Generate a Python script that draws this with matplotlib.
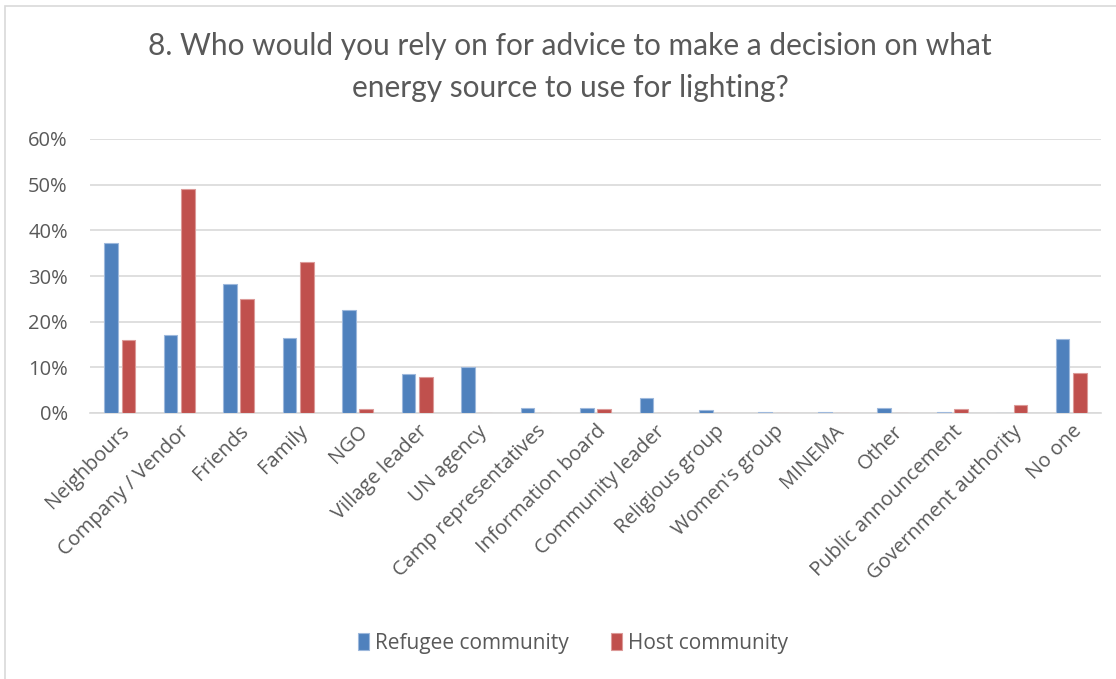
import matplotlib
matplotlib.use("Agg")
import matplotlib.pyplot as plt
from matplotlib.patches import Rectangle
from matplotlib.ticker import PercentFormatter
import numpy as np

categories = ["Neighbours", "Company / Vendor", "Friends", "Family", "NGO", "Village leader",
              "UN agency", "Camp representatives", "Information board", "Community leader",
              "Religious group", "Women's group", "MINEMA", "Other", "Public announcement",
              "Government authority", "No one"]
refugee = [37.3, 17.0, 28.2, 16.5, 22.6, 8.6, 10.0, 1.1, 1.1, 3.3, 0.6, 0.3, 0.3, 1.1, 0.3, 0.0, 16.1]
host = [16.0, 49.1, 25.0, 33.0, 0.8, 7.9, 0.0, 0.0, 0.8, 0.0, 0.0, 0.0, 0.0, 0.0, 0.8, 1.7, 8.8]
series_names = ["Refugee community", "Host community"]
title = "8. Who would you rely on for advice to make a decision on what\nenergy source to use for lighting?"

W, H = 1116, 679
fig = plt.figure(figsize=(W / 100, H / 100), dpi=100)
fig.patch.set_facecolor("white")

# chart border
fig.add_artist(Rectangle((5 / W, -0.01), 1.2, 1 - 6 / H + 0.01, transform=fig.transFigure,
                         fill=False, edgecolor="#d9d9d9", linewidth=1.2))

ax = fig.add_axes([90 / W, 1 - 413 / H, (1101 - 90) / W, (413 - 139) / H])
x = np.arange(len(categories))
bw = 0.23
off = 0.145
blue = "#4f81bd"
red = "#c0504d"
ax.bar(x - off, refugee, bw, color=blue, edgecolor="#9db8dc", linewidth=0.8, label=series_names[0], zorder=3)
ax.bar(x + off, host, bw, color=red, edgecolor="#dc9a98", linewidth=0.8, label=series_names[1], zorder=3)

ax.set_xlim(-0.5, len(categories) - 0.5)
ax.set_ylim(0, 60)
ax.set_yticks(np.arange(0, 61, 10))
ax.yaxis.set_major_formatter(PercentFormatter(decimals=0))
ax.grid(axis="y", color="#d9d9d9", linewidth=1.2, zorder=0)
for s in ["top", "right", "left"]:
    ax.spines[s].set_visible(False)
ax.spines["bottom"].set_color("#d9d9d9")
ax.spines["bottom"].set_linewidth(1.2)
ax.tick_params(axis="both", length=0, colors="#595959", labelsize=14.5)
ax.tick_params(axis="y", pad=16)
ax.tick_params(axis="x", pad=6)
ax.set_xticks(x)
ax.set_xticklabels(categories, rotation=45, ha="right", rotation_mode="anchor")
for lab in ax.get_xticklabels() + ax.get_yticklabels():
    lab.set_fontfamily("Open Sans")

fig.text(570 / W, 1 - 67 / H, title, ha="center", va="center", fontsize=21.5, color="#595959",
         family="Lato", linespacing=1.6)

fig.legend(loc="center", bbox_to_anchor=(573 / W, 1 - 643 / H), ncol=2, frameon=False,
           prop={"family": "Open Sans", "size": 15}, labelcolor="#595959",
           handlelength=0.55, handleheight=0.9, handletextpad=0.3, columnspacing=2.0)

fig.savefig("out.png", dpi=100, facecolor="white")
